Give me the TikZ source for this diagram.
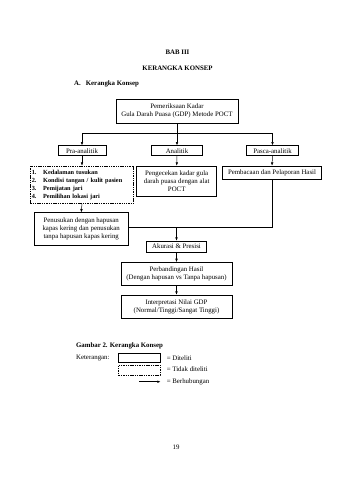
\documentclass[tikz,border=0pt]{standalone}
\usepackage{fontspec}
\setmainfont{Liberation Serif}
\usetikzlibrary{arrows.meta}
\begin{document}
\begin{tikzpicture}[x=1.755pt,y=-1.755pt,
 box/.style={draw, line width=0.85pt, inner sep=0pt, align=center, font=\fontsize{12}{14.4}\selectfont},
 dbox/.style={draw, line width=0.9pt, dash pattern=on 2.5pt off 1.5pt, inner sep=0pt},
 arr/.style={line width=0.85pt, -{Latex[length=6pt,width=4.5pt]}},
 ln/.style={line width=0.85pt},
 hd/.style={font=\fontsize{12}{14.4}\selectfont\bfseries, inner sep=0pt},
 txt/.style={font=\fontsize{12}{14.4}\selectfont, inner sep=0pt}]
\useasboundingbox[fill=white] (0,0) rectangle (339,480);

% headings
\node[hd] (bab) at (177.5,52.3) {BAB III};
\node[hd] (judul) at (177.5,68.3) {KERANGKA KONSEP};
\node[hd, anchor=west] (suba) at (74,84.3) {A.\hspace{9pt}Kerangka Konsep};

% boxes
\node[box, minimum width=214.1pt, minimum height=42.1pt] (top) at (177,111) {Pemeriksaan Kadar\\Gula Darah Puasa (GDP) Metode POCT};
\node[box, minimum width=84.2pt, minimum height=17.6pt] (pre) at (82,150.7) {Pra-analitik};
\node[box, minimum width=89.5pt, minimum height=17.6pt] (ana) at (177,150.7) {Analitik};
\node[box, minimum width=91.3pt, minimum height=17.6pt] (pasca) at (272.5,150.7) {Pasca-analitik};
\node[dbox, inner xsep=2.5pt, text width=176.3pt, minimum height=65.5pt, align=left,
      font=\fontsize{11}{14.2}\selectfont\bfseries] (list) at (82,184.7)
 {\makebox[20pt][l]{1.}Kedalaman tusukan\\
  \makebox[20pt][l]{2.}Kondisi tangan / kulit pasien\\
  \makebox[20pt][l]{3.}Pemijatan jari\\
  \makebox[20pt][l]{4.}Pemilihan lokasi jari};
\node[box, minimum width=140.4pt, minimum height=53.9pt] (peng) at (176.7,181.3) {Pengecekan kadar gula\\darah puasa dengan alat\\POCT};
\node[box, minimum width=174.4pt, minimum height=23.3pt] (pemb) at (272,172.7) {Pembacaan dan Pelaporan Hasil};
\node[box, minimum width=165.5pt, minimum height=56.7pt] (penus) at (81.2,228.8) {Penusukan dengan hapusan\\kapas kering dan penusukan\\tanpa hapusan kapas kering};
\node[box, minimum width=105.3pt, minimum height=19.3pt] (akur) at (176.5,246.5) {Akurasi \& Presisi};
\node[box, minimum width=194.8pt, minimum height=39.8pt] (perb) at (176.5,273.7) {Perbandingan Hasil\\(Dengan hapusan vs Tanpa hapusan)};
\node[box, minimum width=194.8pt, minimum height=40.9pt] (interp) at (176.5,306.7) {Interpretasi Nilai GDP\\(Normal/Tinggi/Sangat Tinggi)};

% connectors
\coordinate (j1) at (177,133.3);
\draw[ln] (top.south) -- (j1);
\draw[arr] (j1) -| (pre.north);
\draw[arr] (j1) -- (ana.north);
\draw[arr] (j1) -| (pasca.north);
\draw[arr] (pre.south) -- (list.north);
\draw[arr] (ana.south) -- (peng.north);
\draw[arr] (pasca.south) -- (pemb.north);
\draw[arr] (list.south) -- (penus.north);
\coordinate (j2) at (pemb.south |- 0,227.7);
\coordinate (j3) at (akur.north |- 0,227.7);
\coordinate (j4) at (penus.east |- 0,227.7);
\draw[ln] (j4) -- (j2) -- (pemb.south);
\draw[arr] (j3) -- (akur.north);
\draw[arr] (akur.south) -- (perb.north);
\draw[arr] (perb.south) -- (interp.north);

% legend
\node[hd, anchor=west] (gambar) at (76,345.7) {Gambar 2. Kerangka Konsep};
\node[txt, anchor=west] (ket) at (76,358.3) {Keterangan:};
\node[box, minimum width=72.5pt, minimum height=15.8pt] (lbox) at (139.35,357.8) {};
\node[dbox, minimum width=72.5pt, minimum height=17.6pt] (ldbox) at (139.35,370) {};
\coordinate (la1) at (139,381.7);
\coordinate (la2) at (160.7,381.7);
\draw[arr, line width=1.1pt] (la1) -- (la2);
\node[txt, anchor=west] (l1) at (166.7,358) {= Diteliti};
\node[txt, anchor=west] (l2) at (166.7,369.5) {= Tidak diteliti};
\node[txt, anchor=west] (l3) at (166.7,381.7) {= Berhubungan};

\node[txt] (page) at (176,447.3) {19};
\end{tikzpicture}
\end{document}
